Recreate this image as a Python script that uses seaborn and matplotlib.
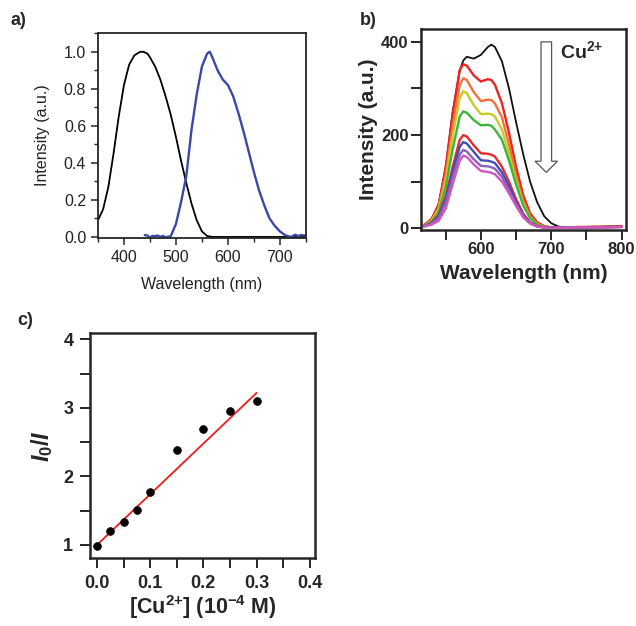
import numpy as np
import pandas as pd
import matplotlib
matplotlib.use("Agg")
import matplotlib.pyplot as plt
from matplotlib.ticker import MultipleLocator
import seaborn as sns

# ---- panel a: absorption / emission (normalised)
abs_nm = [350, 360, 370, 380, 390, 400, 410, 420, 430, 437, 445, 450, 460, 470, 480, 490,
          500, 510, 520, 530, 540, 550, 560, 570, 600, 650, 700, 750]
abs_int = [0.09, 0.15, 0.27, 0.45, 0.65, 0.82, 0.93, 0.98, 0.998, 1.0, 0.99, 0.97, 0.92, 0.85,
           0.76, 0.66, 0.54, 0.41, 0.29, 0.18, 0.09, 0.03, 0.005, 0.0, 0.0, 0.0, 0.0, 0.0]
em_nm = [440, 445, 450, 455, 460, 465, 470, 475, 480, 490, 500, 510, 520, 530, 540, 550, 560,
         565, 570, 580, 590, 600, 610, 620, 630, 640, 650, 660, 670, 680, 690, 700, 710, 720,
         725, 730, 735, 740, 750]
em_int = [0.01, 0.008, -0.004, 0.006, 0.004, 0.008, 0.0, 0.006, -0.002, 0.004, 0.07, 0.19,
          0.33, 0.58, 0.77, 0.92, 0.99, 1.0, 0.97, 0.90, 0.85, 0.82, 0.76, 0.67, 0.57, 0.46,
          0.35, 0.25, 0.17, 0.10, 0.06, 0.03, 0.01, 0.0, 0.006, 0.012, 0.004, 0.01, 0.008]

# ---- panel b: emission titration with Cu2+
b_nm = [515, 520, 530, 540, 550, 560, 570, 575, 580, 590, 600, 610, 615, 620, 630, 640, 650,
        660, 670, 680, 690, 700, 710, 720, 740, 760, 780, 800]
b_black = [5, 8, 20, 52, 130, 250, 338, 360, 368, 364, 372, 389, 394, 389, 358, 300, 228,
           160, 100, 56, 26, 11, 4, 2, 2, 3, 3, 3]
b_red1 = [5, 8, 20, 50, 130, 245, 340, 352, 349, 328, 315, 320, 318, 308, 268, 205, 132,
          72, 32, 13, 5, 2, 2, 2, 3, 3, 4, 5]
b_orange = [4, 7, 18, 45, 115, 220, 308, 322, 318, 292, 273, 276, 275, 268, 238, 180, 115,
            60, 26, 10, 4, 2, 2, 2, 2, 3, 3, 4]
b_yellow = [4, 6, 16, 40, 102, 198, 280, 294, 290, 264, 245, 246, 245, 240, 212, 160, 102,
            54, 23, 9, 3, 2, 2, 2, 2, 3, 3, 3]
b_green = [4, 6, 14, 34, 88, 170, 240, 251, 248, 232, 221, 222, 220, 212, 190, 145, 94,
           50, 22, 8, 3, 2, 2, 2, 2, 2, 3, 3]
b_red2 = [3, 5, 12, 28, 68, 132, 190, 200, 197, 178, 161, 160, 158, 154, 132, 100, 63,
          32, 13, 5, 2, 2, 2, 2, 2, 3, 3, 4]
b_blue = [3, 5, 11, 25, 62, 122, 175, 185, 182, 164, 146, 145, 143, 140, 120, 90, 57,
          29, 12, 4, 2, 1, 1, 2, 2, 2, 3, 3]
b_purple = [3, 5, 10, 22, 55, 110, 158, 168, 165, 148, 134, 133, 131, 128, 110, 82, 52,
            26, 11, 4, 2, 1, 1, 2, 2, 2, 2, 3]
b_magenta = [3, 4, 8, 16, 42, 95, 145, 156, 153, 137, 123, 121, 119, 116, 100, 75, 48,
             24, 10, 4, 2, 1, 1, 1, 2, 2, 2, 3]
b_series = ["black", "red1", "orange", "yellow", "green", "red2", "blue", "purple", "magenta"]
b_colors = ["#111111", "#ee2222", "#f4703a", "#c9c927", "#3db43a", "#e82a2a", "#3f4fb5",
            "#8a5fc0", "#d257b8"]

# ---- panel c: Stern-Volmer plot
cu_conc = [0.0, 0.025, 0.05, 0.075, 0.1, 0.15, 0.2, 0.25, 0.3]
i0_over_i = [0.99, 1.21, 1.34, 1.51, 1.77, 2.38, 2.70, 2.96, 3.10]
fit_x = [0.0, 0.3]
fit_slope = 7.4
fit_intercept = 1.0

sns.set_style("ticks")
plt.rcParams['font.family'] = ['Liberation Sans', 'DejaVu Sans']
plt.rcParams['mathtext.fontset'] = 'custom'
plt.rcParams['mathtext.rm'] = 'Liberation Sans:bold'
plt.rcParams['mathtext.it'] = 'Liberation Sans:italic:bold'
plt.rcParams['mathtext.bf'] = 'Liberation Sans:bold'

fig = plt.figure(figsize=(6.36, 6.26), dpi=100)

# panel a
ax_a = fig.add_axes([0.154, 0.620, 0.327, 0.327])
sns.lineplot(x=abs_nm, y=abs_int, color="black", lw=1.3, ax=ax_a)
sns.lineplot(x=em_nm, y=em_int, color="#3b48a8", lw=1.7, ax=ax_a)
ax_a.set_xlim(350, 750)
ax_a.set_ylim(-0.005, 1.1)
ax_a.xaxis.set_major_locator(MultipleLocator(100))
ax_a.xaxis.set_minor_locator(MultipleLocator(50))
ax_a.yaxis.set_major_locator(MultipleLocator(0.2))
ax_a.yaxis.set_minor_locator(MultipleLocator(0.1))
ax_a.set_yticklabels([f"{v:.1f}" for v in ax_a.get_yticks()])
ax_a.tick_params(which="major", length=5, width=1.1, labelsize=11.5, colors="#222", direction="out")
ax_a.tick_params(which="minor", length=3, width=1.0, direction="out")
for s in ax_a.spines.values():
    s.set_linewidth(1.3)
ax_a.set_xlabel("Wavelength (nm)", fontsize=11.5, color="#222", labelpad=9)
ax_a.set_ylabel("Intensity (a.u.)", fontsize=11.5, color="#222", labelpad=10)

# panel b
ax_b = fig.add_axes([0.662, 0.633, 0.322, 0.321])
b_df = pd.DataFrame({"nm": b_nm * len(b_series),
                     "intensity": b_black + b_red1 + b_orange + b_yellow + b_green + b_red2
                     + b_blue + b_purple + b_magenta,
                     "series": [s for s in b_series for _ in b_nm]})
sns.lineplot(data=b_df, x="nm", y="intensity", hue="series", hue_order=b_series,
             palette=b_colors, lw=1.7, legend=False, ax=ax_b)
ax_b.lines[0].set_linewidth(1.3)
ax_b.set_xlim(515, 806)
ax_b.set_ylim(-3, 428)
ax_b.xaxis.set_major_locator(MultipleLocator(100))
ax_b.xaxis.set_minor_locator(MultipleLocator(50))
ax_b.yaxis.set_major_locator(MultipleLocator(200))
ax_b.yaxis.set_minor_locator(MultipleLocator(100))
ax_b.tick_params(which="major", length=7, width=1.4, labelsize=12, direction="out", pad=2)
ax_b.tick_params(which="minor", length=7, width=1.4, direction="out")
for lab in ax_b.get_xticklabels() + ax_b.get_yticklabels():
    lab.set_fontweight("bold")
for s in ax_b.spines.values():
    s.set_linewidth(1.8)
ax_b.set_xlabel("Wavelength (nm)", fontsize=15, fontweight="bold", labelpad=5)
ax_b.set_ylabel("Intensity (a.u.)", fontsize=15, fontweight="bold", labelpad=2)
ax_b.arrow(693, 400, 0, -280, width=15, head_width=32, head_length=24,
           length_includes_head=True, fc="white", ec="#555555", lw=0.9)
ax_b.text(713, 379, r"Cu$^{2{+}}$", fontsize=14, fontweight="bold", va="center", ha="left")

# panel c
ax_c = fig.add_axes([0.1415, 0.1086, 0.354, 0.359])
fit_y = [fit_intercept + fit_slope * v for v in fit_x]
sns.lineplot(x=fit_x, y=fit_y, color="#ee1c1c", lw=1.3, ax=ax_c)
sns.scatterplot(x=cu_conc, y=i0_over_i, color="black", s=32, edgecolor="black", zorder=3, ax=ax_c)
ax_c.set_xlim(-0.013, 0.41)
ax_c.set_ylim(0.81, 4.09)
ax_c.xaxis.set_major_locator(MultipleLocator(0.1))
ax_c.xaxis.set_minor_locator(MultipleLocator(0.05))
ax_c.yaxis.set_major_locator(MultipleLocator(1))
ax_c.yaxis.set_minor_locator(MultipleLocator(0.5))
ax_c.set_xticklabels([f"{v:.1f}" for v in ax_c.get_xticks()])
ax_c.tick_params(which="major", length=7, width=1.4, labelsize=13, direction="out", pad=5)
ax_c.tick_params(which="minor", length=7, width=1.4, direction="out")
for lab in ax_c.get_xticklabels() + ax_c.get_yticklabels():
    lab.set_fontweight("bold")
for s in ax_c.spines.values():
    s.set_linewidth(1.8)
ax_c.set_xlabel(r"[Cu$^{2{+}}$] (10$^{-4}$ M)", fontsize=15.5, fontweight="bold", labelpad=1)
ax_c.set_ylabel(r"$I_0/I$", fontsize=17, labelpad=6)

fig.text(0.016, 0.968, "a)", fontsize=13, fontweight="bold", va="center")
fig.text(0.565, 0.968, "b)", fontsize=13, fontweight="bold", va="center")
fig.text(0.027, 0.488, "c)", fontsize=13, fontweight="bold", va="center")

fig.savefig("out.png", dpi=100)
